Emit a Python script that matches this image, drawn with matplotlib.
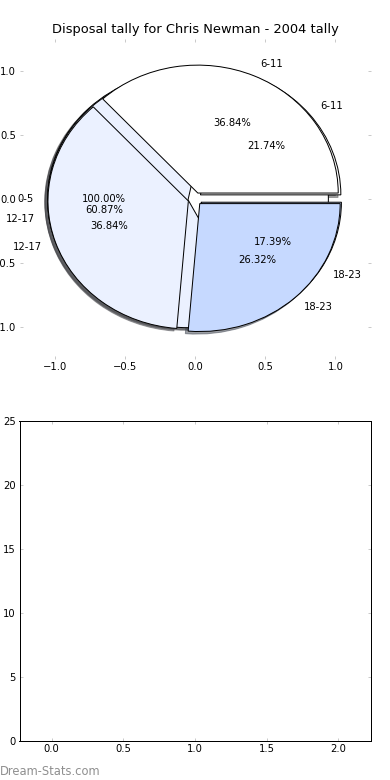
import matplotlib
matplotlib.use("Agg")
import matplotlib.pyplot as plt

# disposal tallies per age bracket, one pie per set
groups_a = ["0-5"]
tally_a = [1]
groups_b = ["6-11", "12-17", "18-23"]
tally_b = [5, 14, 4]
groups_c = ["6-11", "12-17", "18-23"]
tally_c = [7, 7, 5]

colours = ["white", "#ebf1ff", "#c6d9ff"]
tick_grey = "#bdbdbd"

fig = plt.figure(figsize=(390 / 72, 780 / 72), dpi=72)

ax1 = fig.add_axes([0.05, 0.54, 0.9, 0.41])
for vals, labs in [(tally_a, groups_a), (tally_b, groups_b), (tally_c, groups_c)]:
    ax1.pie(vals, labels=labs, explode=[0.05] * len(vals),
            colors=colours[:len(vals)], autopct="%1.2f%%", shadow=True,
            wedgeprops=dict(edgecolor="black", linewidth=1),
            textprops=dict(fontsize=10))
ax1.set_aspect("auto")
ax1.set_frame_on(False)
ax1.set_xlim(-1.25, 1.25)
ax1.set_ylim(-1.25, 1.25)
ax1.set_xticks([-1.0, -0.5, 0.0, 0.5, 1.0])
ax1.set_yticks([-1.0, -0.5, 0.0, 0.5, 1.0])
ax1.tick_params(direction="in", length=3, color=tick_grey, labelsize=10,
                top=True, right=True)
ax1.set_title("Disposal tally for Chris Newman - 2004 tally", fontsize=13)

ax2 = fig.add_axes([0.05, 0.05, 0.9, 0.41])
ax2.set_xlim(-0.225, 2.225)
ax2.set_ylim(0, 25)
ax2.set_xticks([0.0, 0.5, 1.0, 1.5, 2.0])
ax2.set_yticks([0, 5, 10, 15, 20, 25])
ax2.tick_params(direction="in", length=3, color=tick_grey, labelsize=10,
                top=True, right=True)
for sp in ax2.spines.values():
    sp.set_color("black")
    sp.set_linewidth(1)

fig.text(0.0, 0.003, "Dream-Stats.com", fontsize=11.5, color="#8f8f8f",
         ha="left", va="bottom")

fig.savefig("out.png", dpi=72)
